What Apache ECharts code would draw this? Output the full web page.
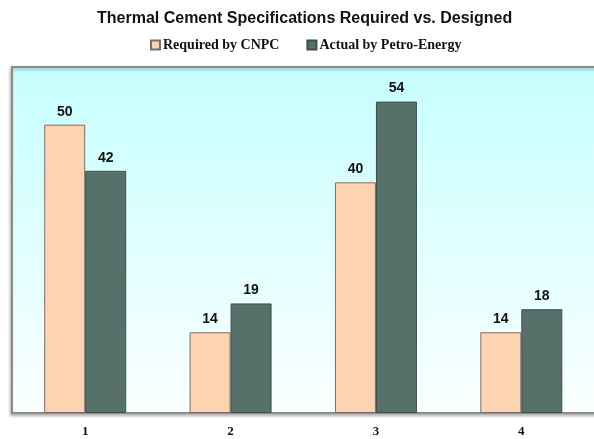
<!DOCTYPE html>
<html>
<head>
<meta charset="utf-8">
<script src="https://cdn.jsdelivr.net/npm/echarts@6/dist/echarts.min.js"></script>
<style>
  html, body { margin: 0; padding: 0; background: #fff; }
  #chart { width: 594px; height: 439px; }
</style>
</head>
<body>
<div id="chart"></div>
<script>
// Categories and values for the two bar series
const categories = ['1', '2', '3', '4'];
const requiredByCNPC = [50, 14, 40, 14];
const actualByPetroEnergy = [42, 19, 54, 18];
const seriesNames = ['Required by CNPC', 'Actual by Petro-Energy'];

const chart = echarts.init(document.getElementById('chart'), null, { renderer: 'canvas' });

const labelStyle = {
  show: true,
  position: 'top',
  distance: 6,
  color: '#111',
  fontFamily: '"Liberation Sans", Arial, sans-serif',
  fontWeight: 'bold',
  fontSize: 14
};

chart.setOption({
  animation: false,
  backgroundColor: '#ffffff',
  title: {
    text: 'Thermal Cement Specifications Required vs. Designed',
    left: 92,
    top: 6,
    textStyle: {
      fontFamily: '"Liberation Sans", Arial, sans-serif',
      fontWeight: 'bold',
      fontSize: 16,
      color: '#111'
    }
  },
  legend: {
    top: 33,
    left: 145,
    icon: 'rect',
    itemWidth: 9,
    itemHeight: 9,
    itemGap: 27,
    textStyle: {
      fontFamily: '"Liberation Serif", "Times New Roman", serif',
      fontWeight: 'bold',
      fontSize: 14,
      color: '#111',
      padding: [0, 0, 0, -2]
    },
    data: seriesNames
  },
  // Plot-area panel: cyan-to-white fade with a grey frame running off the right edge
  graphic: [{
    type: 'rect',
    z: 0,
    shape: { x: 12, y: 67, width: 600, height: 346 },
    style: {
      fill: new echarts.graphic.LinearGradient(0, 0, 0, 1, [
        { offset: 0, color: '#c6ffff' },
        { offset: 1, color: '#fbffff' }
      ]),
      stroke: '#8c8c8c',
      lineWidth: 2,
      shadowColor: 'rgba(0,0,0,0.25)',
      shadowBlur: 3,
      shadowOffsetX: -1,
      shadowOffsetY: 2
    }
  }],
  grid: {
    left: 12.5,
    top: 67,
    width: 584,
    bottom: 26
  },
  xAxis: {
    type: 'category',
    data: categories,
    axisLine: { show: false },
    axisTick: { show: false },
    axisLabel: {
      margin: 12,
      fontFamily: '"Liberation Serif", "Times New Roman", serif',
      fontWeight: 'bold',
      fontSize: 13,
      color: '#111'
    }
  },
  yAxis: {
    type: 'value',
    min: 0,
    max: 60,
    show: false,
    splitLine: { show: false }
  },
  series: [
    {
      name: seriesNames[0],
      type: 'bar',
      data: requiredByCNPC,
      barWidth: 41,
      barGap: '0%',
      z: 3,
      itemStyle: { color: '#fdd4b1', borderColor: '#7a6f66', borderWidth: 1 },
      label: labelStyle
    },
    {
      name: seriesNames[1],
      type: 'bar',
      data: actualByPetroEnergy,
      barWidth: 41,
      barGap: '0%',
      z: 3,
      itemStyle: { color: '#56716a', borderColor: '#3d4f4a', borderWidth: 1 },
      label: labelStyle
    }
  ]
});
</script>
</body>
</html>
